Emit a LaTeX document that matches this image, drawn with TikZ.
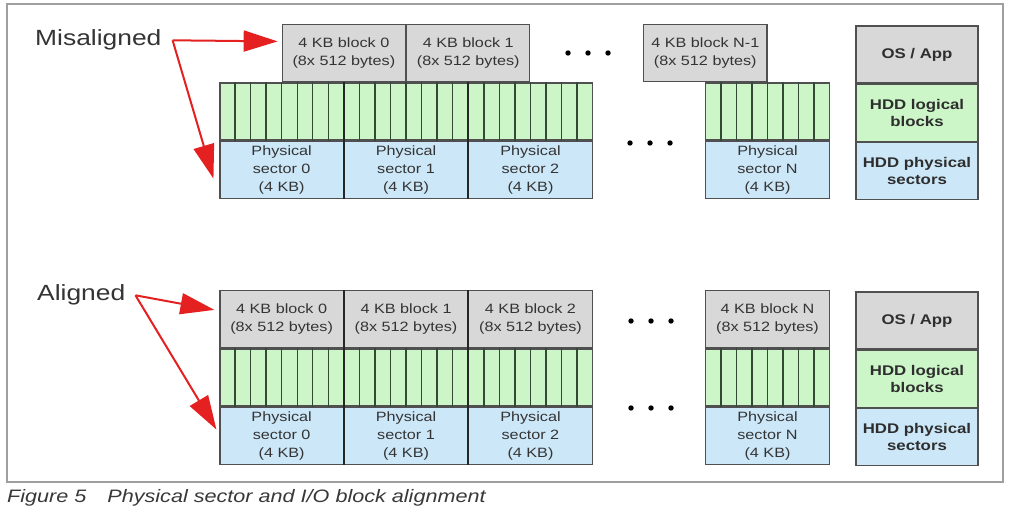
\documentclass[tikz,border=0pt]{standalone}
\usepackage{fontspec}
\setmainfont{Liberation Sans}[FakeStretch=1.2]
\usepackage{tikz}
\usetikzlibrary{positioning, arrows.meta, calc}

\definecolor{blkgray}{RGB}{216,216,216}
\definecolor{lgcgreen}{RGB}{204,245,200}
\definecolor{secblue}{RGB}{204,231,248}
\definecolor{edgegray}{RGB}{80,80,80}
\definecolor{txtgray}{RGB}{52,52,52}
\definecolor{stripegreen}{RGB}{52,72,54}
\definecolor{arrred}{RGB}{228,32,32}

\begin{document}
\begin{tikzpicture}[
                x=1pt, y=-1pt,
                cell/.style={rectangle, draw=edgegray, line width=1.1pt, minimum width=123.3pt, minimum height=57pt, inner sep=0pt, align=center, text=txtgray, font=\fontsize{13.5}{18}\selectfont},
                blk/.style={cell, fill=blkgray},
                lgc/.style={cell, fill=lgcgreen},
                sec/.style={cell, fill=secblue},
                key/.style={cell, minimum width=122pt, text=black!82, font=\bfseries\fontsize{14}{17}\selectfont},
                label/.style={anchor=base west, inner sep=0pt, text=txtgray, font=\fontsize{22}{26}\selectfont},
                redarrow/.style={draw=arrred, line width=2pt, -{Triangle[length=34pt, width=21pt]}},
                sepline/.style={draw=black!85, line width=2.2pt},
                stripe/.style={draw=stripegreen, line width=1.4pt},
                frame/.style={draw=gray!75, line width=1.6pt}
            ]%
            \useasboundingbox (0,0) rectangle (1024,510);
            \draw[frame] (7,4) rectangle (1003,482);
            %
            % === MISALIGNED ===
            \node[lgc] (mlg0) at (281.65,111.5) {};
            \node[lgc, right=0pt of mlg0] (mlg1) {};
            \node[lgc, right=0pt of mlg1] (mlg2) {};
            \node[lgc] (mlgN) at (767.5,111.5) {};
            \node[sec, below=0pt of mlg0] (msec0) {Physical\\sector 0\\(4 KB)};
            \node[sec, below=0pt of mlg1] (msec1) {Physical\\sector 1\\(4 KB)};
            \node[sec, below=0pt of mlg2] (msec2) {Physical\\sector 2\\(4 KB)};
            \node[sec, below=0pt of mlgN] (msecN) {Physical\\sector N\\(4 KB)};
            \node[blk, anchor=south] (mblk0) at (mlg0.north east) {4 KB block 0\\(8x 512 bytes)};
            \node[blk, right=0pt of mblk0] (mblk1) {4 KB block 1\\(8x 512 bytes)};
            \node[blk, anchor=south] (mblkN) at (mlgN.north west) {4 KB block N-1\\(8x 512 bytes)};
            %
            % === ALIGNED ===
            \node[lgc] (alg0) at (281.65,377.5) {};
            \node[lgc, right=0pt of alg0] (alg1) {};
            \node[lgc, right=0pt of alg1] (alg2) {};
            \node[lgc] (algN) at (767.5,377.5) {};
            \node[sec, below=0pt of alg0] (asec0) {Physical\\sector 0\\(4 KB)};
            \node[sec, below=0pt of alg1] (asec1) {Physical\\sector 1\\(4 KB)};
            \node[sec, below=0pt of alg2] (asec2) {Physical\\sector 2\\(4 KB)};
            \node[sec, below=0pt of algN] (asecN) {Physical\\sector N\\(4 KB)};
            \node[blk, above=0pt of alg0] (ablk0) {4 KB block 0\\(8x 512 bytes)};
            \node[blk, above=0pt of alg1] (ablk1) {4 KB block 1\\(8x 512 bytes)};
            \node[blk, above=0pt of alg2] (ablk2) {4 KB block 2\\(8x 512 bytes)};
            \node[blk, above=0pt of algN] (ablkN) {4 KB block N\\(8x 512 bytes)};
            %
            % 512-byte logical blocks
            \foreach \n in {mlg0, mlg1, mlg2, mlgN, alg0, alg1, alg2, algN}
                \foreach \i in {1,...,7}
                    \draw[stripe] ($(\n.north west)!\i/8!(\n.north east)$) -- ($(\n.south west)!\i/8!(\n.south east)$);
            %
            % Sector boundaries
            \draw[sepline] (mlg0.north east) -- (msec0.south east);
            \draw[sepline] (mlg1.north east) -- (msec1.south east);
            \draw[sepline] (ablk0.north east) -- (asec0.south east);
            \draw[sepline] (ablk1.north east) -- (asec1.south east);
            %
            % Ellipses
            \foreach \x in {568, 588, 608} \fill (\x,53) circle (2.7pt);
            \foreach \x in {630, 650, 670} \fill (\x,143) circle (2.7pt);
            \foreach \x in {631, 651, 671} {
                \fill (\x,321) circle (2.7pt);
                \fill (\x,408) circle (2.7pt);
            }
            %
            % === KEY ===
            \node[key, fill=blkgray] (mkos) at (917,54.5) {OS / App};
            \node[key, fill=lgcgreen, below=0pt of mkos] (mklg) {HDD logical\\blocks};
            \node[key, fill=secblue, below=0pt of mklg] (mksec) {HDD physical\\sectors};
            \node[key, fill=blkgray] (akos) at (917,320.5) {OS / App};
            \node[key, fill=lgcgreen, below=0pt of akos] (aklg) {HDD logical\\blocks};
            \node[key, fill=secblue, below=0pt of aklg] (aksec) {HDD physical\\sectors};
            %
            % Labels
            \node[label] (mis) at (35,46) {Misaligned};
            \node[label] (ali) at (37,301) {Aligned};
            \draw[redarrow] ([xshift=11pt]mis.east) -- ([shift={(-4pt,12pt)}]mblk0.west);
            \draw[redarrow] ([xshift=11pt]mis.east) -- ([shift={(-6pt,-9pt)}]msec0.west);
            \draw[redarrow] ([xshift=10pt]ali.east) -- ([shift={(-5pt,9.5pt)}]ablk0.west);
            \draw[redarrow] ([xshift=10pt]ali.east) -- ([shift={(-3pt,6pt)}]asec0.west);
            %
            % Caption
            \node[anchor=base west, inner sep=0pt, text=black!78, font=\itshape\fontsize{18}{22}\selectfont] (cap) at (7,502) {Figure 5\hspace{21pt}Physical sector and I/O block alignment};
        \end{tikzpicture}
\end{document}
